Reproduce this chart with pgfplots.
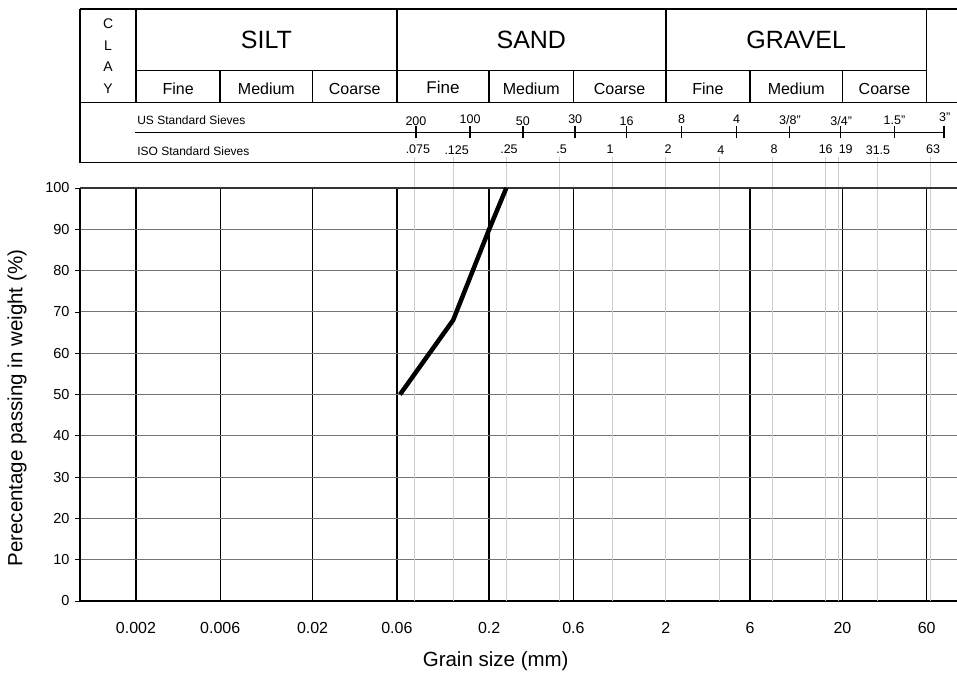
\documentclass[border=0pt]{standalone}
\usepackage{fontspec}
\setmainfont{Liberation Sans}
\usepackage{pgfplots}
\pgfplotsset{compat=1.18}
\begin{document}
\begin{tikzpicture}
\useasboundingbox (-80pt,-72pt) rectangle (877pt,601pt);
\begin{axis}[
 at={(0,0)}, anchor=south west,
 scale only axis, width=877pt, height=413pt,
 xmode=log, xmin=0.000964, xmax=89.1, ymin=0, ymax=100,
 clip=false,
 axis x line*=bottom, axis y line*=left,
 axis line style={line width=1.5pt, black},
 xtick={0.002,0.006,0.02,0.06,0.2,0.6,2,6,20,60},
 xticklabels={0.002,0.006,0.02,0.06,0.2,0.6,2,6,20,60},
 minor xtick={},
 ytick={0,10,...,100},
 xmajorgrids, ymajorgrids,
 x grid style={black, line width=1.4pt},
 y grid style={black!55, line width=0.9pt},
 xtick style={draw=none},
 ytick style={black, line width=0.8pt},
 tick align=outside, major tick length=5pt,
 xticklabel style={font=\fontsize{16}{18}\selectfont, yshift=-13pt},
 yticklabel style={font=\fontsize{14.5}{17}\selectfont, xshift=-2pt},
 /pgf/number format/assume math mode=true,
]
% light grey ISO sieve lines
\foreach \v in {0.075,0.125,0.25,0.5,1,2,4,8,16,19,31.5,63}{
  \edef\tmp{\noexpand\draw[black!20, line width=0.8pt] (axis cs:\v,107.58) -- (axis cs:\v,0);}\tmp
}
% top border of plot
\draw[black!80, line width=1.6pt] (axis cs:0.000964,100) -- (axis cs:200,100);
% data
\addplot[black, line width=4.5pt, line join=round] coordinates {(0.0625,50) (0.125,68) (0.2,90) (0.25,100)};

% header table
\tikzset{hdr/.style={black, line width=1.5pt}}
\draw[hdr] (axis cs:0.000964,143.34) -- (axis cs:200,143.34);
\draw[hdr] (axis cs:0.000964,120.65) -- (axis cs:200,120.65);
\draw[hdr] (axis cs:0.000964,106.13) -- (axis cs:200,106.13);
\draw[hdr] (axis cs:0.002,128.40) -- (axis cs:60,128.40);
\draw[hdr] (axis cs:0.000964,143.34) -- (axis cs:0.000964,106.13);
\foreach \v in {0.002,0.06,2,60}{
  \edef\tmp{\noexpand\draw[hdr] (axis cs:\v,143.34) -- (axis cs:\v,120.65);}\tmp
}
\foreach \v in {0.006,0.02,0.2,0.6,6,20}{
  \edef\tmp{\noexpand\draw[hdr] (axis cs:\v,128.40) -- (axis cs:\v,120.65);}\tmp
}
% US sieve line and ticks
\draw[hdr] (axis cs:0.001974,113.39) -- (axis cs:75,113.39);
\foreach \v in {0.077,0.156,0.31,0.614,1.2,2.46,5.04,10,19.5,39.4,75}{
  \edef\tmp{\noexpand\draw[hdr] (axis cs:\v,112.03) -- (axis cs:\v,115.08);}\tmp
}
% header texts
\tikzset{cl/.style={font=\fontsize{14}{16}\selectfont, anchor=base, inner sep=0pt},
         big/.style={font=\fontsize{25}{30}\selectfont, anchor=base, inner sep=0pt},
         sub/.style={font=\fontsize{16}{19}\selectfont, anchor=base, inner sep=0pt},
         sv/.style={font=\fontsize{12.5}{14}\selectfont, anchor=base, inner sep=0pt}}
\node[cl] at (axis cs:0.00139,138.50) {C};
\node[cl] at (axis cs:0.00139,133.24) {L};
\node[cl] at (axis cs:0.00139,128.16) {A};
\node[cl] at (axis cs:0.00139,122.93) {Y};
\node[big] at (axis cs:0.01095,133.83) {SILT};
\node[big] at (axis cs:0.3464,133.83) {SAND};
\node[big] at (axis cs:10.95,133.83) {GRAVEL};
\node[sub] at (axis cs:0.003464,122.68) {Fine};
\node[sub] at (axis cs:0.01095,122.68) {Medium};
\node[sub] at (axis cs:0.03464,122.68) {Coarse};
\node[sub, font=\fontsize{17}{20}\selectfont] at (axis cs:0.1095,122.85) {Fine};
\node[sub] at (axis cs:0.3464,122.68) {Medium};
\node[sub] at (axis cs:1.095,122.68) {Coarse};
\node[sub] at (axis cs:3.464,122.68) {Fine};
\node[sub] at (axis cs:10.95,122.68) {Medium};
\node[sub] at (axis cs:34.64,122.68) {Coarse};
\node[font=\fontsize{12}{14}\selectfont, anchor=base west, inner sep=0pt] at (axis cs:0.00203,115.42) {US Standard Sieves};
\node[font=\fontsize{12}{14}\selectfont, anchor=base west, inner sep=0pt] at (axis cs:0.00203,107.99) {ISO Standard Sieves};
% US labels
\node[sv] at (axis cs:0.077,115.25) {200};
\node[sv] at (axis cs:0.156,115.67) {100};
\node[sv] at (axis cs:0.31,115.25) {50};
\node[sv] at (axis cs:0.614,115.67) {30};
\node[sv] at (axis cs:1.2,115.25) {16};
\node[sv] at (axis cs:2.46,115.5) {8};
\node[sv] at (axis cs:5.04,115.5) {4};
\node[sv] at (axis cs:10.1,115.42) {3/8"};
\node[sv] at (axis cs:19.7,115.25) {3/4"};
\node[sv] at (axis cs:39.4,115.3) {1.5"};
\node[sv] at (axis cs:76,116.05) {3"};
% ISO labels
\node[sv] at (axis cs:0.0790,108.4) {.075};
\node[sv] at (axis cs:0.1309,108.15) {.125};
\node[sv] at (axis cs:0.2589,108.3) {.25};
\node[sv] at (axis cs:0.5147,108.3) {.5};
\node[sv] at (axis cs:0.9661,108.4) {1};
\node[sv] at (axis cs:2.058,108.4) {2};
\node[sv] at (axis cs:4.093,108.23) {4};
\node[sv] at (axis cs:8.199,108.4) {8};
\node[sv] at (axis cs:16.09,108.4) {16};
\node[sv] at (axis cs:20.88,108.4) {19};
\node[sv] at (axis cs:31.81,108.15) {31.5};
\node[sv] at (axis cs:65.2,108.4) {63};
% axis labels
\node[font=\fontsize{20.5}{24}\selectfont] at ([yshift=-60pt]rel axis cs:0.474,0) {Grain size (mm)};
\node[font=\fontsize{20.5}{24}\selectfont, rotate=90] at ([xshift=-63pt]rel axis cs:0,0.467) {Perecentage passing in weight (\%)};
\end{axis}
\end{tikzpicture}
\end{document}
